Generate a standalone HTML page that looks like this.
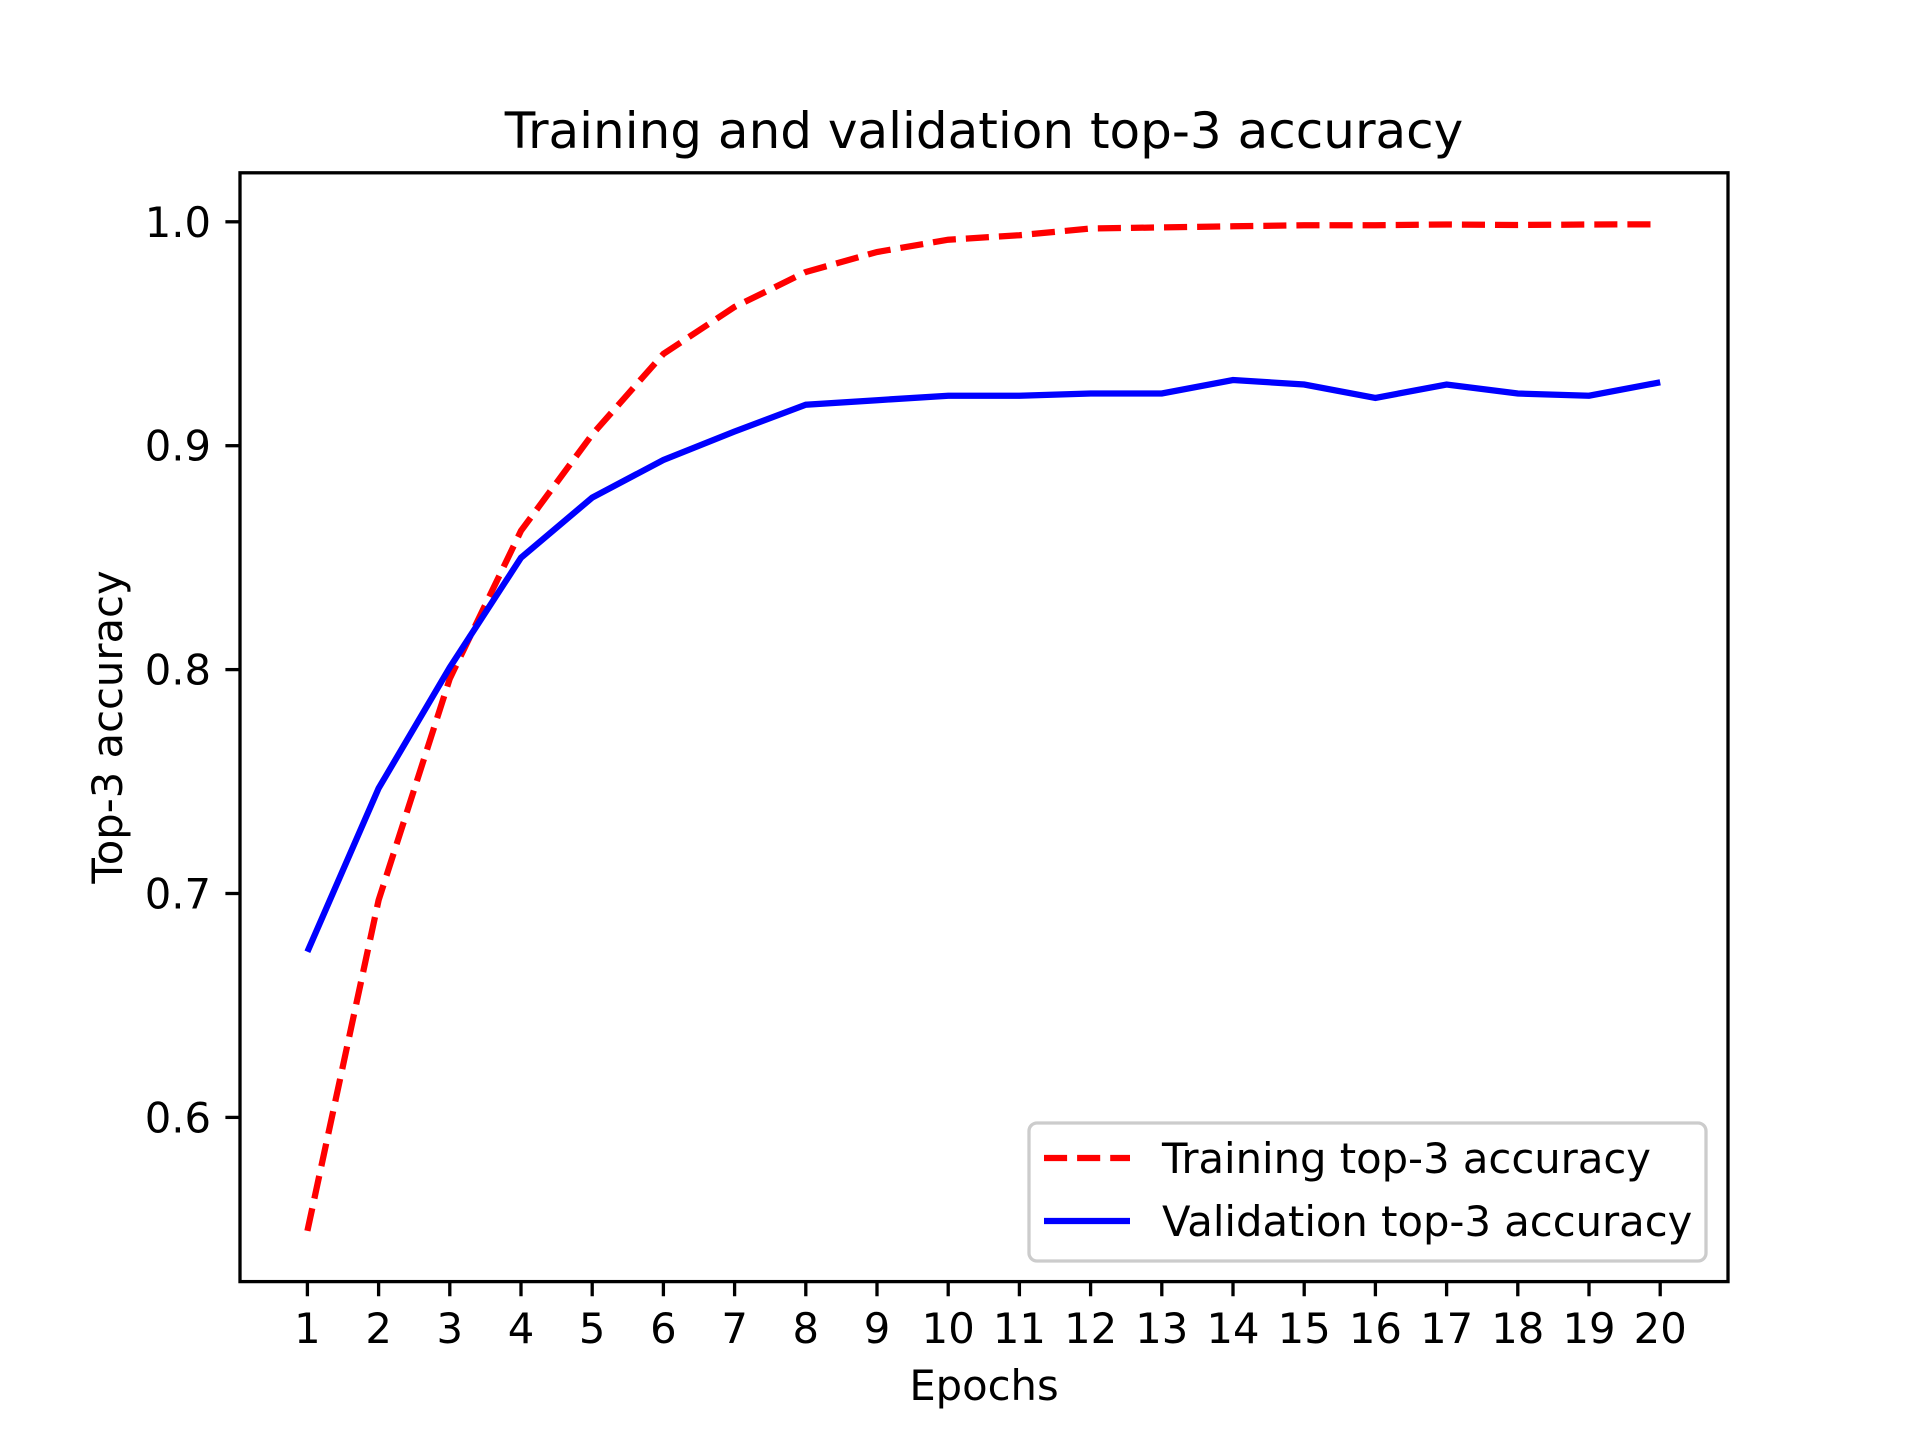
<!DOCTYPE html>
<html><head><style>html,body{margin:0;padding:0;background:#fff}svg{display:block}</style></head>
<body>
<svg width="1920" height="1440" viewBox="0 0 1920 1440" xmlns="http://www.w3.org/2000/svg" font-family="'DejaVu Sans', 'Liberation Sans', sans-serif">
<rect width="1920" height="1440" fill="#fff"/>
<text x="984" y="148" font-size="50" text-anchor="middle">Training and validation top-3 accuracy</text>
<g stroke="#000" stroke-width="3.3">
<line x1="240" y1="221.8" x2="225.4" y2="221.8"/>
<line x1="240" y1="445.7" x2="225.4" y2="445.7"/>
<line x1="240" y1="669.6" x2="225.4" y2="669.6"/>
<line x1="240" y1="893.5" x2="225.4" y2="893.5"/>
<line x1="240" y1="1117.4" x2="225.4" y2="1117.4"/>
</g>
<g font-size="41.7" text-anchor="end">
<text x="211" y="236.8">1.0</text>
<text x="211" y="460.7">0.9</text>
<text x="211" y="684.6">0.8</text>
<text x="211" y="908.5">0.7</text>
<text x="211" y="1132.4">0.6</text>
</g>
<g font-size="41.7" text-anchor="middle">
<text x="307.4" y="1343">1</text><text x="378.6" y="1343">2</text><text x="449.8" y="1343">3</text><text x="521" y="1343">4</text><text x="592.2" y="1343">5</text><text x="663.4" y="1343">6</text><text x="734.6" y="1343">7</text><text x="805.8" y="1343">8</text><text x="877" y="1343">9</text><text x="948.2" y="1343">10</text><text x="1019.4" y="1343">11</text><text x="1090.6" y="1343">12</text><text x="1161.8" y="1343">13</text><text x="1233" y="1343">14</text><text x="1304.2" y="1343">15</text><text x="1375.4" y="1343">16</text><text x="1446.6" y="1343">17</text><text x="1517.8" y="1343">18</text><text x="1589" y="1343">19</text><text x="1660.2" y="1343">20</text>
</g>
<g stroke="#000" stroke-width="3.3">
<path d="M307.4 1281.6v14.6M378.6 1281.6v14.6M449.8 1281.6v14.6M521 1281.6v14.6M592.2 1281.6v14.6M663.4 1281.6v14.6M734.6 1281.6v14.6M805.8 1281.6v14.6M877 1281.6v14.6M948.2 1281.6v14.6M1019.4 1281.6v14.6M1090.6 1281.6v14.6M1161.8 1281.6v14.6M1233 1281.6v14.6M1304.2 1281.6v14.6M1375.4 1281.6v14.6M1446.6 1281.6v14.6M1517.8 1281.6v14.6M1589 1281.6v14.6M1660.2 1281.6v14.6"/>
</g>
<text x="984" y="1400" font-size="41.7" text-anchor="middle">Epochs</text>
<text transform="translate(122,727) rotate(-90)" font-size="41.7" text-anchor="middle">Top-3 accuracy</text>
<polyline fill="none" stroke="#ff0000" stroke-width="6.25" stroke-dasharray="23.1,10" points="307.4,1230.9 378.6,900.2 449.8,678.6 521,530.8 592.2,434.5 663.4,353.9 734.6,306.9 805.8,272 877,252 948.2,239.7 1019.4,235.2 1090.6,228.5 1161.8,227.4 1233,226.3 1304.2,225.2 1375.4,225.2 1446.6,224.5 1517.8,225 1589,224.5 1660.2,224.3"/>
<polyline fill="none" stroke="#0000ff" stroke-width="6.25" points="307.4,951.7 378.6,788.3 449.8,667.4 521,557.7 592.2,497.6 663.4,460 734.6,431.5 805.8,404.7 877,400.2 948.2,395.7 1019.4,395.7 1090.6,393.5 1161.8,393.5 1233,380 1304.2,384.5 1375.4,397.9 1446.6,384.5 1517.8,393.5 1589,395.7 1660.2,382.3"/>
<rect x="1029" y="1123" width="677" height="138" rx="8" fill="#fff" fill-opacity="0.8" stroke="#cccccc" stroke-width="3.3"/>
<line x1="1044" y1="1158" x2="1130" y2="1158" stroke="#ff0000" stroke-width="6.25" stroke-dasharray="23.1,10"/>
<line x1="1044" y1="1221" x2="1130" y2="1221" stroke="#0000ff" stroke-width="6.25"/>
<text x="1162" y="1173" font-size="41.7">Training top-3 accuracy</text>
<text x="1162" y="1236" font-size="41.7">Validation top-3 accuracy</text>
<rect x="240" y="172.8" width="1488" height="1108.8" fill="none" stroke="#000" stroke-width="3.3"/>
</svg>
</body></html>
